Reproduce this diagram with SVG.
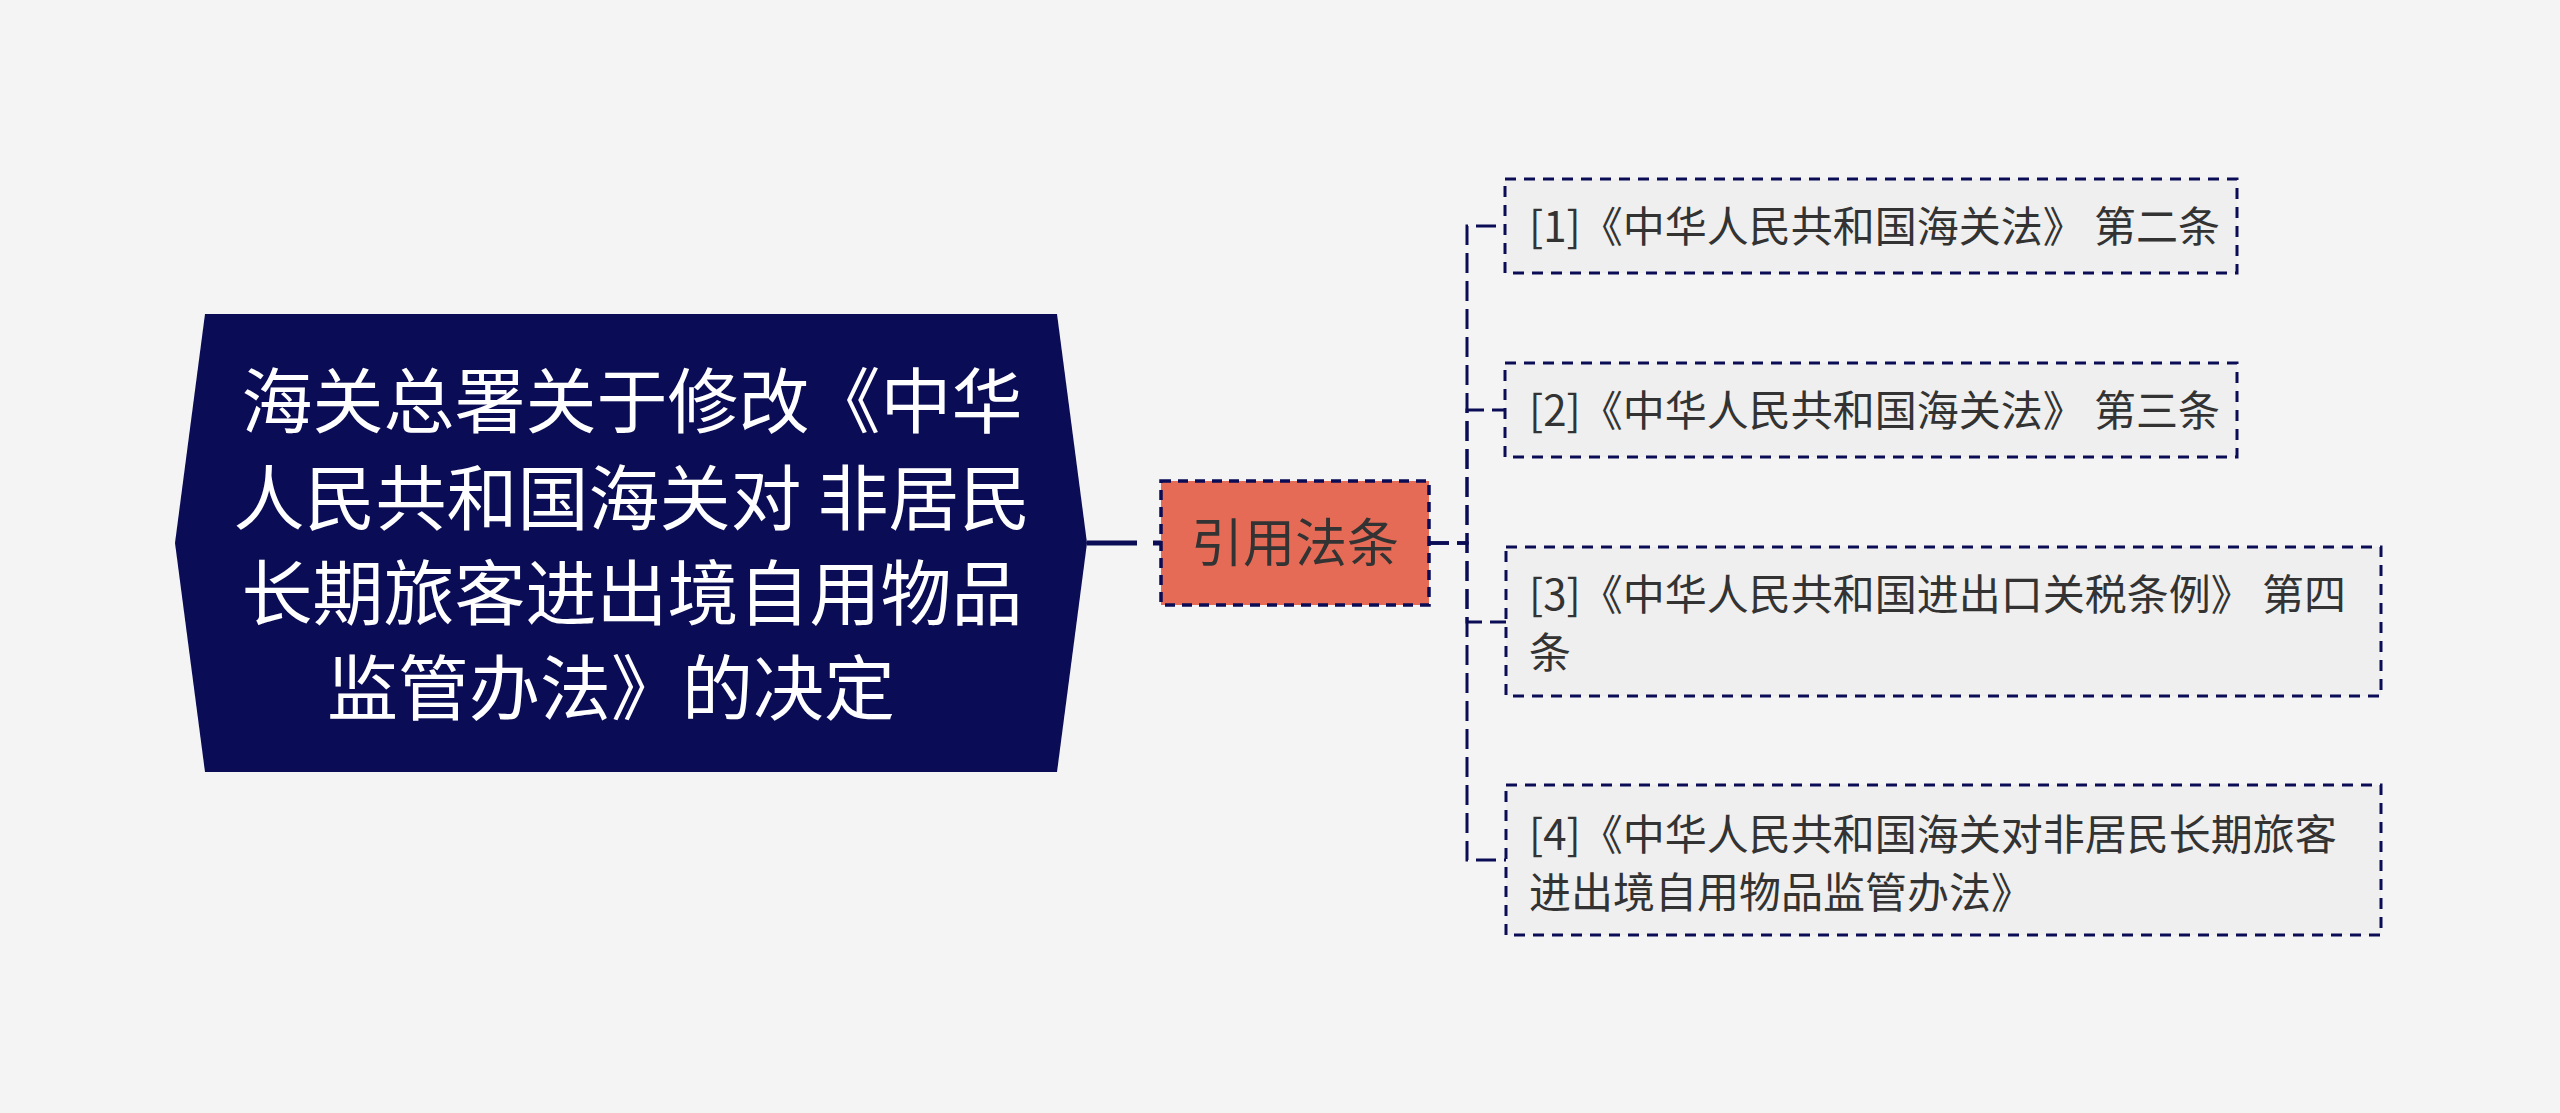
<svg xmlns="http://www.w3.org/2000/svg" width="2560" height="1113" viewBox="0 0 2560 1113">
<style>
.bg{fill:#F4F4F5}
.root{fill:#0A0C55}
.rtext{font-family:"Noto Sans CJK SC","Noto Sans",sans-serif;font-size:71px;fill:#FFFFFF;text-anchor:middle}
.mid{fill:#E56B57;stroke:#0A0C55;stroke-width:3.5;stroke-dasharray:10 7}
.mtext{font-family:"Noto Sans CJK SC","Noto Sans",sans-serif;font-size:52px;fill:#333333;text-anchor:middle}
.leaf{fill:#EFEFEF;stroke:#0A0C55;stroke-width:3;stroke-dasharray:11 8}
.ltext{font-family:"Noto Sans CJK SC","Noto Sans",sans-serif;font-size:42px;fill:#333333}
.conn{fill:none;stroke:#0A0C55;stroke-width:3;stroke-dasharray:20 8}
.main{fill:none;stroke:#0A0C55;stroke-width:5;stroke-dasharray:50 16}
</style>
<rect class="bg" x="0" y="0" width="2560" height="1113"/>
<g id="connectors">
<path class="main" d="M1087,543 H1161"/>
<path class="conn" d="M1429,543 H1467 V226 H1505"/>
<path class="conn" d="M1429,543 H1467 V410 H1505"/>
<path class="conn" d="M1429,543 H1467 V622 H1506"/>
<path class="conn" d="M1429,543 H1467 V860 H1506"/>
</g>
<g id="root">
<polygon class="root" points="175,543 205,314 1057,314 1087,543 1057,772 205,772"/>
<text class="rtext"><tspan x="632" y="427">海关总署关于修改《中华</tspan><tspan x="632" y="524">人民共和国海关对 非居民</tspan><tspan x="632" y="619">长期旅客进出境自用物品</tspan><tspan x="611" y="714">监管办法》的决定</tspan></text>
</g>
<g id="mid">
<rect class="mid" x="1161" y="481" width="268" height="124"/>
<text class="mtext" x="1295" y="562">引用法条</text>
</g>
<g id="leaf1">
<rect class="leaf" x="1505" y="179" width="732" height="94"/>
<text class="ltext" x="1529" y="242">[1]《中华人民共和国海关法》 第二条</text>
</g>
<g id="leaf2">
<rect class="leaf" x="1505" y="363" width="732" height="94"/>
<text class="ltext" x="1529" y="426">[2]《中华人民共和国海关法》 第三条</text>
</g>
<g id="leaf3">
<rect class="leaf" x="1506" y="547" width="875" height="149"/>
<text class="ltext"><tspan x="1529" y="610">[3]《中华人民共和国进出口关税条例》 第四</tspan><tspan x="1529" y="668">条</tspan></text>
</g>
<g id="leaf4">
<rect class="leaf" x="1506" y="785" width="875" height="150"/>
<text class="ltext"><tspan x="1529" y="850">[4]《中华人民共和国海关对非居民长期旅客</tspan><tspan x="1529" y="908">进出境自用物品监管办法》</tspan></text>
</g>
</svg>
